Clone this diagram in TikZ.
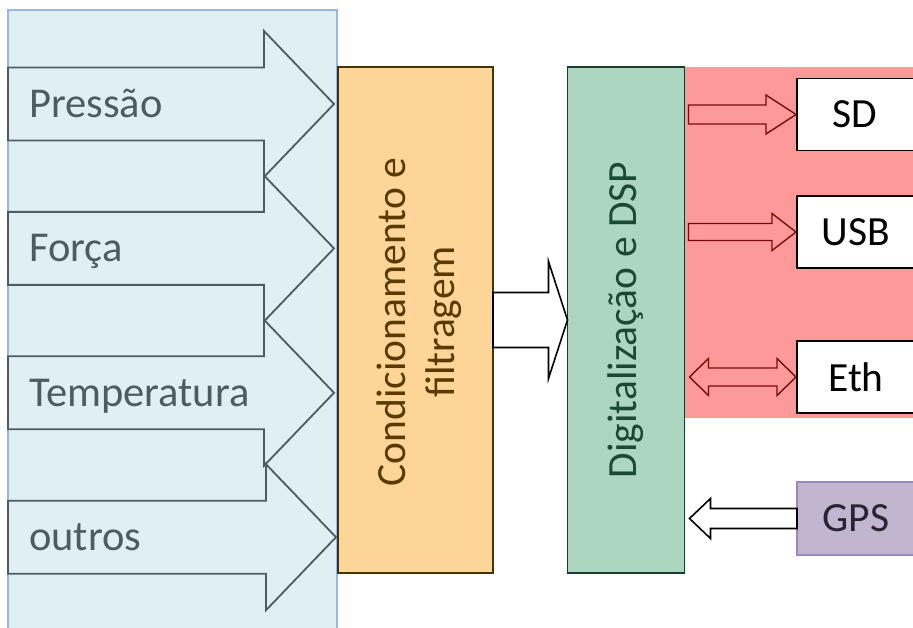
\documentclass[tikz,border=0pt]{standalone}
\usepackage{fontspec}
\setmainfont{Carlito}
\usetikzlibrary{calc}
\definecolor{panelfill}{HTML}{E0EFF4}
\definecolor{paneldraw}{HTML}{95B8E6}
\definecolor{slate}{HTML}{4E5C62}
\definecolor{orfill}{HTML}{FDD599}
\definecolor{ordraw}{HTML}{4A3200}
\definecolor{ortext}{HTML}{5A3A00}
\definecolor{grfill}{HTML}{ACD6C0}
\definecolor{grdraw}{HTML}{173D28}
\definecolor{grtext}{HTML}{1C4A30}
\definecolor{redbg}{HTML}{FE9999}
\definecolor{reddraw}{HTML}{7A0A0A}
\definecolor{gpsfill}{HTML}{C1B5CF}
\definecolor{gpsdraw}{HTML}{9B87B9}
\definecolor{gpstext}{HTML}{2B2233}
% single block arrow: [style]{start}{target}{shaft half}{head half}{head length}{start offset}{tip offset}
\newcommand\bkarrow[8][]{%
  \draw[#1] let \p1=(#2), \p2=(#3) in
    ({\x1+(#7)},{\y1-(#4)}) -- ({\x2+(#8)-(#6)},{\y1-(#4)}) -- ({\x2+(#8)-(#6)},{\y1-(#5)})
    -- ({\x2+(#8)},\y1) -- ({\x2+(#8)-(#6)},{\y1+(#5)}) -- ({\x2+(#8)-(#6)},{\y1+(#4)})
    -- ({\x1+(#7)},{\y1+(#4)}) -- cycle;}
% double block arrow
\newcommand\bkdarrow[8][]{%
  \draw[#1] let \p1=(#2), \p2=(#3) in
    ({\x1+(#7)},\y1) -- ({\x1+(#7)+(#6)},{\y1-(#5)}) -- ({\x1+(#7)+(#6)},{\y1-(#4)})
    -- ({\x2+(#8)-(#6)},{\y1-(#4)}) -- ({\x2+(#8)-(#6)},{\y1-(#5)}) -- ({\x2+(#8)},\y1)
    -- ({\x2+(#8)-(#6)},{\y1+(#5)}) -- ({\x2+(#8)-(#6)},{\y1+(#4)})
    -- ({\x1+(#7)+(#6)},{\y1+(#4)}) -- ({\x1+(#7)+(#6)},{\y1+(#5)}) -- cycle;}
\tikzset{
  box/.style={rectangle, inner sep=0pt, outer sep=0pt, line width=1.6pt},
  inarrow/.style={fill=panelfill, draw=slate, line width=1.8pt, line join=miter},
  inlabel/.style={anchor=base west, inner sep=0pt, text=slate, font=\fontsize{42.5}{51}\selectfont},
  redarr/.style={fill=redbg, draw=reddraw, line width=1.4pt},
  whitearr/.style={fill=white, draw=black, line width=1.6pt},
}
\begin{document}
\begin{tikzpicture}[x=1pt, y=-1pt, font=\fontsize{41.5}{48.5}\selectfont]
\useasboundingbox (0,0) rectangle (913,628);
\clip (0,0) rectangle (913,628);
% left panel
\node[box, fill=panelfill, draw=paneldraw, line width=1.4pt, minimum width=329pt, minimum height=640pt] (panel) at (172.5,330) {};
% input arrows
\foreach \cy/\lab/\nm/\hx/\tx in {104/Pressão/p1/264/334, 248.4/Força/p2/264/334, 392.8/Temperatura/p3/264/334, 537.2/outros/p4/266/336}{
  \draw[inarrow] (8,\cy-36.5) -- (\hx,\cy-36.5) -- (\hx,\cy-73) -- (\tx,\cy) -- (\hx,\cy+73) -- (\hx,\cy+36.5) -- (8,\cy+36.5) -- cycle;
  \node[inlabel] (\nm) at (29,\cy+13.5) {\lab};
}
% conditioning box
\node[box, fill=orfill, draw=ordraw, minimum width=155pt, minimum height=506pt] (cond) at (415.5,320) {};
\node[rotate=90, align=center, text=ortext] (condtxt) at (419,322) {Condicionamento e\\filtragem};
% red background
\node[box, fill=redbg, minimum width=240pt, minimum height=351pt] (redbg) at (804,242.5) {};
% DSP box
\node[box, fill=grfill, draw=grdraw, minimum width=117pt, minimum height=506pt] (dsp) at (626,320) {};
\node[rotate=90, text=grtext] (dsptxt) at (dsp.center) {Digitalização e DSP};
% outputs
\node[box, fill=white, draw=black, minimum width=120pt, minimum height=72pt] (sd) at (857,114.5) {};
\node[inner sep=0pt] (sdtxt) at (855,114.5) {SD};
\node[box, fill=white, draw=black, minimum width=120pt, minimum height=72pt] (usb) at (857,232) {};
\node[inner sep=0pt] (usbtxt) at (856,232) {USB};
\node[box, fill=white, draw=black, minimum width=120pt, minimum height=72pt] (eth) at (857,377) {};
\node[inner sep=0pt] (ethtxt) at (856,377) {Eth};
\node[box, fill=gpsfill, draw=gpsdraw, minimum width=120pt, minimum height=73pt] (gps) at (857,518.5) {};
\node[inner sep=0pt, text=gpstext] (gpstxt) at (856,518.5) {GPS};
% connectors
\bkarrow[whitearr]{cond.east}{dsp.west}{27.5}{58.5}{19}{0}{0}
\bkarrow[redarr]{dsp.east |- sd.west}{sd.west}{9.5}{19.5}{30}{4}{-1}
\bkarrow[redarr]{dsp.east |- usb.west}{usb.west}{8.5}{18.5}{24}{4}{-1}
\bkdarrow[redarr]{dsp.east |- eth.west}{eth.west}{9}{18.5}{19}{5}{-1}
\bkarrow[whitearr]{gps.west}{dsp.east}{10}{20}{-21}{0}{5}
\end{tikzpicture}
\end{document}
